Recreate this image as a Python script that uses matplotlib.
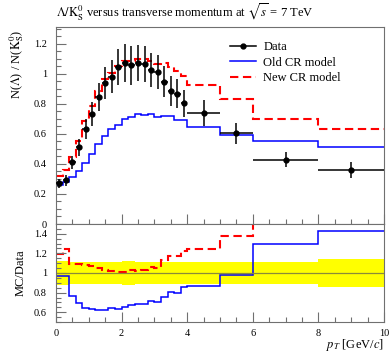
import numpy as np
import matplotlib
matplotlib.use("Agg")
import matplotlib.pyplot as plt
from matplotlib.lines import Line2D

plt.rcParams['font.family'] = ['Liberation Serif', 'DejaVu Serif']
plt.rcParams['mathtext.fontset'] = 'stix'

# ---- data ----
bin_edges = [0.0, 0.2, 0.4, 0.6, 0.8, 1.0, 1.2, 1.4, 1.6, 1.8, 2.0, 2.2, 2.4,
             2.6, 2.8, 3.0, 3.2, 3.4, 3.6, 3.8, 4.0, 5.0, 6.0, 8.0, 10.0]
data_vals = [0.27, 0.29, 0.41, 0.51, 0.633, 0.735, 0.847, 0.94, 0.982, 1.045,
             1.075, 1.057, 1.073, 1.067, 1.027, 1.015, 0.948, 0.889, 0.869, 0.804,
             0.74, 0.604, 0.427, 0.36]
data_errs = [0.032, 0.035, 0.046, 0.056, 0.068, 0.08, 0.092, 0.105, 0.108, 0.12,
             0.128, 0.128, 0.12, 0.12, 0.114, 0.112, 0.104, 0.1, 0.098, 0.088,
             0.086, 0.07, 0.05, 0.052]
old_cr = [0.261, 0.280, 0.314, 0.355, 0.409, 0.467, 0.530, 0.588, 0.631, 0.661,
          0.702, 0.712, 0.730, 0.729, 0.730, 0.711, 0.717, 0.717, 0.695, 0.690,
          0.645, 0.592, 0.553, 0.515]
new_cr = [0.322, 0.362, 0.447, 0.556, 0.684, 0.784, 0.886, 0.968, 1.004, 1.053,
          1.084, 1.089, 1.100, 1.099, 1.085, 1.066, 1.076, 1.045, 1.017, 0.985,
          0.925, 0.835, 0.700, 0.635]

title = r"$\Lambda/\mathrm{K}^0_\mathrm{S}$ versus transverse momentum at $\sqrt{s}$ = 7 TeV"
ylabel_top = r"N($\Lambda$) / N($\mathrm{K}^0_\mathrm{S}$)"
ylabel_ratio = "MC/Data"
xlabel = r"$p_T$ [GeV/$c$]"
labels = ["Data", "Old CR model", "New CR model"]

edges = np.array(bin_edges)
centers = 0.5 * (edges[:-1] + edges[1:])
halfw = 0.5 * np.diff(edges)
d = np.array(data_vals)
de = np.array(data_errs)
oc = np.array(old_cr)
nc = np.array(new_cr)

W, H = 390, 352
fig = plt.figure(figsize=(W / 100, H / 100), dpi=100)
L, R = 56, 384
ax = fig.add_axes([L / W, 1 - 224 / H, (R - L) / W, (224 - 27) / H])
axr = fig.add_axes([L / W, 1 - 322 / H, (R - L) / W, (322 - 224) / H], sharex=ax)

blue = '#0000ff'
red = '#ff0000'
dash = (0, (4, 2.2))

# top panel
ax.stairs(oc, edges, color=blue, lw=1.1, baseline=None)
ax.stairs(nc, edges, color=red, lw=1.5, ls=dash, baseline=None)
ax.errorbar(centers, d, yerr=de, xerr=halfw, fmt='o', color='black', ms=3.5,
            elinewidth=1.1, capsize=0, zorder=5)
ax.set_xlim(0, 10)
ax.set_ylim(0, 1.313)
ax.set_yticks([0, 0.2, 0.4, 0.6, 0.8, 1.0, 1.2])
ax.set_yticklabels(['0', '0.2', '0.4', '0.6', '0.8', '1', '1.2'])
ax.set_yticks(np.arange(0, 1.31, 0.05), minor=True)
ax.tick_params(axis='x', labelbottom=False)

# ratio panel
rel = de / d
axr.stairs(1 + rel, edges, baseline=1 - rel, fill=True, color='#ffff00', lw=0)
axr.axhline(1.0, color='#8a8a3a', lw=0.9)
axr.stairs(oc / d, edges, color=blue, lw=1.1, baseline=None)
axr.stairs(nc / d, edges, color=red, lw=1.5, ls=dash, baseline=None)
axr.set_ylim(0.5, 1.5)
axr.set_yticks([0.6, 0.8, 1.0, 1.2, 1.4])
axr.set_yticklabels(['0.6', '0.8', '1', '1.2', '1.4'])
axr.set_yticks(np.arange(0.5, 1.5, 0.05), minor=True)
axr.set_xticks([0, 2, 4, 6, 8, 10])
axr.set_xticklabels(['0', '2', '4', '6', '8', '10'])
axr.set_xticks(np.arange(0, 10.01, 0.5), minor=True)

for a in (ax, axr):
    for s in a.spines.values():
        s.set_color('#707070')
        s.set_linewidth(0.8)
    a.tick_params(which='both', direction='in', color='#707070', width=0.8,
                  labelsize=7.5, right=False, top=False)
    a.tick_params(which='major', length=7)
    a.tick_params(which='minor', length=3.5)
    a.tick_params(axis='y', pad=6.5)
    a.tick_params(axis='x', pad=5)

# labels
fig.text(L / W, 1 - 16 / H, title, fontsize=9, ha='left', va='baseline')
ax.set_ylabel(ylabel_top, fontsize=9, loc='top')
axr.set_ylabel(ylabel_ratio, fontsize=9)
ax.yaxis.set_label_coords(-0.09, 0.985)
axr.yaxis.set_label_coords(-0.09, 0.5)
fig.text(R / W, 1 - 348 / H, xlabel, fontsize=9, ha='right', va='baseline')

handles = [Line2D([], [], color='black', marker='o', ms=3.5, lw=1.1),
           Line2D([], [], color=blue, lw=1.1),
           Line2D([], [], color=red, lw=1.5, ls=dash)]
ax.legend(handles, labels, loc='upper left', bbox_to_anchor=(230 / W, 1 - 41 / H),
          bbox_transform=fig.transFigure, frameon=False, fontsize=9,
          handlelength=2.1, handletextpad=0.56, labelspacing=0.28,
          borderpad=0, borderaxespad=0)

fig.savefig('out.png', dpi=100)
